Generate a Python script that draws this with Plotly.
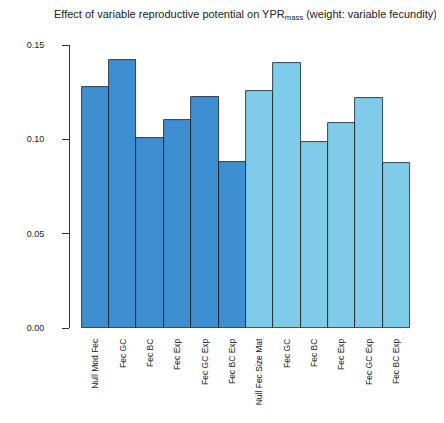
import plotly.graph_objects as go

categories = ["Null Mod Fec", "Fec GC", "Fec BC", "Fec Exp", "Fec GC Exp", "Fec BC Exp",
              "Null Fec Size Mat", "Fec GC", "Fec BC", "Fec Exp", "Fec GC Exp", "Fec BC Exp"]
values = [0.128, 0.142, 0.1005, 0.110, 0.1226, 0.0881,
          0.1258, 0.1403, 0.0987, 0.1085, 0.1217, 0.0873]
groups = ["dark"] * 6 + ["light"] * 6
yticks = [0.00, 0.05, 0.10, 0.15]
ytick_labels = ["0.00", "0.05", "0.10", "0.15"]

color_map = {"dark": "#3e8ed2", "light": "#7ecbea"}
positions = list(range(len(categories)))

fig = go.Figure(go.Bar(
    x=positions, y=values, width=1,
    marker=dict(color=[color_map[g] for g in groups], line=dict(color="#1a1a1a", width=0.8)),
))

fig.update_layout(
    width=436, height=415,
    margin=dict(l=62, r=23, t=37, b=95, autoexpand=False),
    plot_bgcolor="white", paper_bgcolor="white",
    showlegend=False,
    font=dict(family="Liberation Sans, Arial, sans-serif", color="#222"),
    bargap=0,
)
fig.add_annotation(
    text="Effect of variable reproductive potential on YPR<sub>mass</sub> (weight: variable fecundity)",
    xref="paper", yref="paper", x=0.5, y=1, yshift=30, xanchor="center", yanchor="middle",
    showarrow=False, font=dict(size=11, color="#222"),
)
fig.update_xaxes(
    range=[-0.93, 11.9], tickvals=positions, ticktext=categories, tickangle=-90,
    showline=False, showgrid=False, zeroline=False, ticks="", automargin=False,
    tickfont=dict(size=8.5, color="#222"), ticklabelstandoff=8,
)
fig.update_yaxes(
    range=[0, 0.15], tickvals=yticks, ticktext=ytick_labels, automargin=False,
    showline=True, linecolor="#333", linewidth=1, showgrid=False, zeroline=False,
    ticks="outside", ticklen=7, tickcolor="#333",
    tickfont=dict(size=9, color="#222"), ticklabelstandoff=16,
)
fig.write_html("out.html")
